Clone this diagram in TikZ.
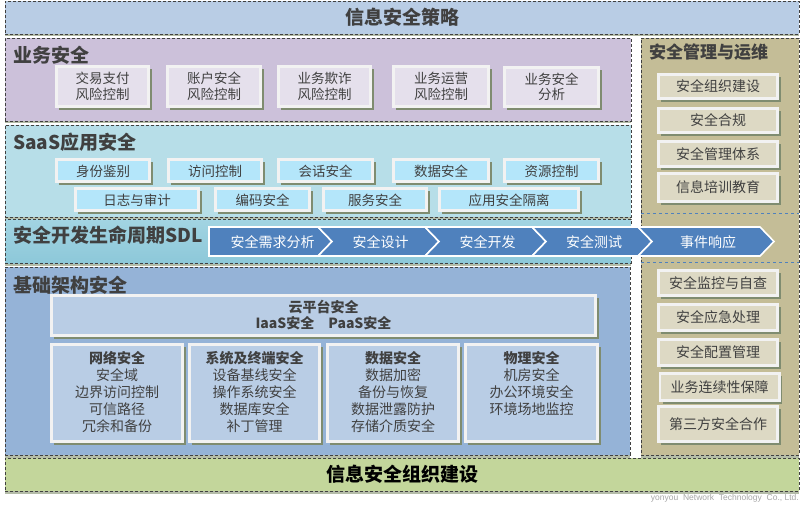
\documentclass[tikz,border=0pt]{standalone}
\usepackage{fontspec}
\setmainfont{Noto Sans CJK SC}
\newfontfamily\latinfont{Liberation Sans}
\usetikzlibrary{shadows,positioning}
\definecolor{policyBlue}{HTML}{B9CDE5}
\definecolor{bizPurple}{HTML}{CCC1DA}
\definecolor{bizCell}{HTML}{E5E0EC}
\definecolor{saasCyan}{HTML}{B7DEE8}
\definecolor{saasCell}{HTML}{B4E6FA}
\definecolor{sdlTop}{HTML}{A2D4E2}
\definecolor{sdlBot}{HTML}{8DC8D9}
\definecolor{arrowBlue}{HTML}{4F81BD}
\definecolor{mgmtTan}{HTML}{C4BD97}
\definecolor{mgmtCell}{HTML}{DDD9C4}
\definecolor{infraBlue}{HTML}{95B3D7}
\definecolor{orgGreen}{HTML}{C3D69B}
\definecolor{frameGray}{HTML}{F2F2F2}
\definecolor{cellShadow}{HTML}{7F8C70}
\definecolor{panelShadow}{HTML}{B4BCA8}
\definecolor{inkGray}{HTML}{404040}
\tikzset{
  panel/.style={draw=inkGray, dash pattern=on 3pt off 2pt, line width=0.7pt, inner sep=0pt,
    drop shadow={shadow xshift=0pt, shadow yshift=-2.5pt, fill=panelShadow, opacity=1}},
  paneltitle/.style={anchor=west, text=inkGray, inner sep=0pt, font=\fontsize{19}{22}\selectfont\bfseries},
  cell/.style={draw=frameGray, line width=2.6pt, inner sep=0pt, align=center, text=inkGray,
    font=\fontsize{13.5}{15.5}\selectfont,
    drop shadow={shadow xshift=3pt, shadow yshift=-3pt, fill=cellShadow, opacity=1}},
  saascell/.style={cell, fill=saasCell, minimum height=22.4pt, text depth=-1.5pt},
  mgmtcell/.style={cell, fill=mgmtCell, minimum width=119.4pt, font=\fontsize{14}{16}\selectfont},
  infracell/.style={cell, fill=policyBlue, minimum height=97.4pt},
  infratext/.style={align=center, text=inkGray, inner sep=0pt, font=\fontsize{14}{17}\selectfont},
  phasetext/.style={text=white, inner sep=0pt, font=\fontsize{14}{16}\selectfont}
}
\begin{document}
\begin{tikzpicture}[x=1pt, y=-1pt]
\useasboundingbox (0,0) rectangle (802,505);

% top and bottom bands
\node[panel, fill=policyBlue, minimum width=794pt, minimum height=33pt, text=inkGray,
  font=\fontsize{19}{22}\selectfont\bfseries] (policy) at (402,17.5) {信息安全策略};
\node[panel, fill=orgGreen, minimum width=794pt, minimum height=33pt, text=black,
  font=\fontsize{19}{22}\selectfont\bfseries] (org) at (402,474.5) {信息安全组织建设};

% right column
\node[panel, fill=mgmtTan, minimum width=158pt, minimum height=417pt] (mgmt) at (720,246.5) {};
\node[paneltitle, font=\fontsize{17}{20}\selectfont\bfseries] (mgmtT) at (649,52.5) {安全管理与运维};
\draw[arrowBlue, dashed, line width=0.6pt] (641,213) -- (799,213);
\draw[arrowBlue, dashed, line width=0.6pt] (641,262) -- (799,262);
\node[mgmtcell, minimum height=24.4pt] (orgBuild) at (718,86.5) {安全组织建设};
\node[mgmtcell, minimum height=24.4pt] (comply) at (718,120.5) {安全合规};
\node[mgmtcell, minimum height=25.4pt] (system) at (718,154) {安全管理体系};
\node[mgmtcell, minimum height=28.4pt] (train) at (718,187.5) {信息培训教育};
\node[mgmtcell, minimum height=25.4pt] (monitor) at (718,283) {安全监控与自查};
\node[mgmtcell, minimum height=26.4pt] (emerg) at (718,317.5) {安全应急处理};
\node[mgmtcell, minimum height=26.4pt] (config) at (718,352.5) {安全配置管理};
\node[mgmtcell, minimum height=27.4pt] (contin) at (719.5,387) {业务连续性保障};
\node[mgmtcell, minimum height=35.4pt] (third) at (718,424) {第三方安全合作};

% business security
\node[panel, fill=bizPurple, minimum width=626pt, minimum height=83pt] (biz) at (318,79.5) {};
\node[paneltitle] (bizT) at (13,55) {业务安全};
\node[cell, fill=bizCell, minimum width=92.4pt, minimum height=40.4pt] (pay) at (102.5,86.5) {交易支付\\风险控制};
\node[cell, fill=bizCell, minimum width=93.4pt, minimum height=40.4pt] (account) at (214,86.5) {账户安全\\风险控制};
\node[cell, fill=bizCell, minimum width=92.4pt, minimum height=40.4pt] (fraud) at (324.5,86.5) {业务欺诈\\风险控制};
\node[cell, fill=bizCell, minimum width=95.4pt, minimum height=40.4pt] (operate) at (441,86.5) {业务运营\\风险控制};
\node[cell, fill=bizCell, minimum width=94.4pt, minimum height=39.4pt] (analyse) at (551.5,87) {业务安全\\分析};

% SaaS application security
\node[panel, fill=saasCyan, minimum width=626pt, minimum height=92pt] (saas) at (318,171) {};
\node[paneltitle] (saasT) at (13,142) {SaaS应用安全};
\node[saascell, minimum width=93.4pt] (ident) at (103,170.5) {身份鉴别};
\node[saascell, minimum width=93.4pt] (access) at (215,170.5) {访问控制};
\node[saascell, minimum width=94.4pt] (session) at (325.5,170.5) {会话安全};
\node[saascell, minimum width=95.4pt] (data) at (441,170.5) {数据安全};
\node[saascell, minimum width=94.4pt] (resource) at (551.5,170.5) {资源控制};
\node[saascell, minimum width=123.4pt] (audit) at (137,199.5) {日志与审计};
\node[saascell, minimum width=94.4pt] (coding) at (262.5,199.5) {编码安全};
\node[saascell, minimum width=103.4pt] (service) at (375,199.5) {服务安全};
\node[saascell, minimum width=139.4pt] (isolate) at (509,199.5) {应用安全隔离};

% SDL band
\node[panel, top color=sdlTop, bottom color=sdlBot, minimum width=626pt, minimum height=44pt] (sdl) at (318,241) {};
\node[paneltitle] (sdlT) at (13,235) {安全开发生命周期SDL};
\foreach \l/\r/\phase [count=\i] in {209/318/安全需求分析, 318/425/安全设计, 425/532/安全开发, 532/638/安全测试, 638/760/事件响应} {
  \ifnum\i=1 \def\notch{0}\else\def\notch{14}\fi
  \filldraw[fill=arrowBlue, draw=white, line width=1.6pt] (\l,227) -- (\r,227) -- ({\r+14},241.5) -- (\r,256) -- (\l,256) -- ({\l+\notch},241.5) -- cycle;
  \node[phasetext] (phase\i) at ({(\l+\r+14)/2+2},242) {\phase};
}

% infrastructure security
\node[panel, fill=infraBlue, minimum width=625pt, minimum height=188pt] (infra) at (317.5,361) {};
\node[paneltitle] (infraT) at (13,285) {基础架构安全};
\node[cell, fill=policyBlue, minimum width=544.4pt, minimum height=40.4pt,
  font=\fontsize{14}{16}\selectfont\bfseries] (cloud) at (323.5,315.5) {云平台安全\\IaaS安全\quad PaaS安全};
\node[infracell, minimum width=131.4pt] (net) at (117,393) {};
\node[infracell, minimum width=130.4pt] (host) at (254.5,393) {};
\node[infracell, minimum width=131.4pt] (store) at (393,393) {};
\node[infracell, minimum width=132.4pt] (phys) at (531.5,393) {};
\node[infratext, below=8pt of net.north] (netT) {\textbf{网络安全}\\安全域\\边界访问控制\\可信路径\\冗余和备份};
\node[infratext, below=8pt of host.north] (hostT) {\textbf{系统及终端安全}\\设备基线安全\\操作系统安全\\数据库安全\\补丁管理};
\node[infratext, below=8pt of store.north] (storeT) {\textbf{数据安全}\\数据加密\\备份与恢复\\数据泄露防护\\存储介质安全};
\node[infratext, below=8pt of phys.north] (physT) {\textbf{物理安全}\\机房安全\\办公环境安全\\环境场地监控};

\node[anchor=east, text=black!35, inner sep=0pt, font=\latinfont\fontsize{8.5}{9}\selectfont] (credit) at (799,498) {yonyou\ \ Network\ \ Technology\ \ Co.,\ Ltd.};
\end{tikzpicture}
\end{document}
